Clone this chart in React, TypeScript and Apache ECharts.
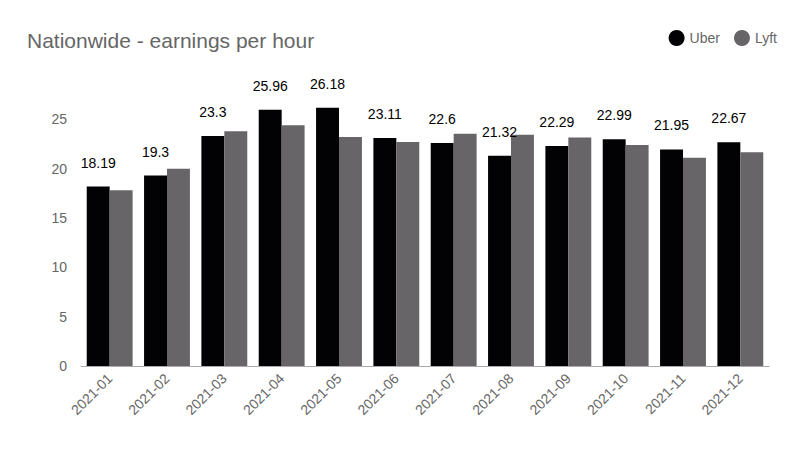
import React, { useEffect, useRef } from "react";
import * as echarts from "echarts";

const categories = ["2021-01","2021-02","2021-03","2021-04","2021-05","2021-06","2021-07","2021-08","2021-09","2021-10","2021-11","2021-12"];
const uber = [18.19, 19.3, 23.3, 25.96, 26.18, 23.11, 22.6, 21.32, 22.29, 22.99, 21.95, 22.67];
const lyft = [17.8, 20.0, 23.8, 24.4, 23.2, 22.7, 23.55, 23.45, 23.15, 22.4, 21.1, 21.66];

export default function App() {
  const ref = useRef<HTMLDivElement>(null);
  useEffect(() => {
    const chart = echarts.init(ref.current!, null, { renderer: "svg" });
    const font = "'Liberation Sans', Arial, sans-serif";
    chart.setOption({
      animation: false,
      backgroundColor: "#ffffff",
      textStyle: { fontFamily: font },
      title: {
        text: "Nationwide - earnings per hour",
        left: 22,
        top: 25,
        textStyle: { fontSize: 21, fontWeight: "normal", color: "#666666", fontFamily: font },
      },
      legend: {
        right: 18,
        top: 25,
        icon: "circle",
        itemWidth: 16,
        itemHeight: 16,
        itemGap: 14,
        textStyle: { fontSize: 14, color: "#666666", fontFamily: font },
        data: ["Uber", "Lyft"],
      },
      grid: { left: 81, right: 31, top: 70, bottom: 84 },
      xAxis: {
        type: "category",
        data: categories,
        axisLine: { lineStyle: { color: "#aaaaaa" } },
        axisTick: { show: false },
        axisLabel: { rotate: 45, color: "#666666", fontSize: 14, margin: 10, fontFamily: font },
      },
      yAxis: {
        type: "value",
        min: 0,
        max: 30,
        interval: 5,
        splitLine: { show: false },
        axisLine: { show: false },
        axisTick: { show: false },
        axisLabel: {
          color: "#666666",
          fontSize: 14,
          margin: 14,
          fontFamily: font,
          formatter: (v: number) => (v >= 30 ? "" : String(v)),
        },
      },
      series: [
        {
          name: "Uber",
          type: "bar",
          data: uber,
          barGap: "0%",
          barCategoryGap: "20%",
          itemStyle: { color: "#020104" },
          label: { show: true, position: "top", distance: 17, color: "#000000", fontSize: 14, fontFamily: font },
        },
        {
          name: "Lyft",
          type: "bar",
          data: lyft,
          itemStyle: { color: "#686568" },
        },
      ],
    });
    return () => chart.dispose();
  }, []);
  return <div ref={ref} style={{ width: 800, height: 450, position: "absolute", left: 0, top: 0 }} />;
}
